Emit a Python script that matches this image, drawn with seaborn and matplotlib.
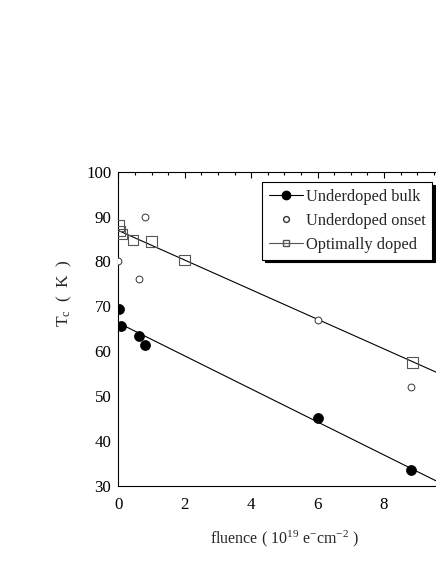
import numpy as np
import pandas as pd
import matplotlib
matplotlib.use("Agg")
import matplotlib.pyplot as plt
from matplotlib.lines import Line2D
import seaborn as sns

sns.set_theme(style="white")
plt.rcParams['font.family'] = ['Liberation Serif', 'DejaVu Serif']
plt.rcParams['mathtext.fontset'] = 'custom'
plt.rcParams['mathtext.rm'] = 'Liberation Serif'
plt.rcParams['mathtext.it'] = 'Liberation Serif'
plt.rcParams['mathtext.default'] = 'regular'

# Data
bulk_x = [0.02, 0.07, 0.63, 0.79, 6.02, 8.83]
bulk_y = [69.5, 65.6, 63.4, 61.3, 45.1, 33.5]
onset_x = [0.0, 0.62, 0.79, 6.02, 8.83]
onset_y = [80.0, 76.0, 89.9, 67.0, 52.0]
opt_x = [0.02, 0.03, 0.1, 0.44, 0.99, 2.0, 8.87]
opt_y = [88.0, 86.8, 86.1, 84.8, 84.5, 80.3, 57.5]
# linear fit parameters (intercept, slope)
bulk_fit = (66.3, -3.68)
opt_fit = (86.9, -3.30)
fit_x = [0.0, 10.0]
series_names = ["Underdoped bulk", "Underdoped onset", "Optimally doped"]

fig = plt.figure(figsize=(4.36, 5.64), dpi=100)
ax = fig.add_axes([118.3/436, 1-485.7/564, 332/436, (485.7-171.7)/564])

fx = np.array(fit_x)
sns.lineplot(x=fx, y=bulk_fit[0] + bulk_fit[1]*fx, ax=ax, color='black', lw=0.8)
sns.lineplot(x=fx, y=opt_fit[0] + opt_fit[1]*fx, ax=ax, color='black', lw=0.8)

sns.scatterplot(x=bulk_x, y=bulk_y, ax=ax, marker='o', s=52, color='black',
                edgecolor='black', linewidth=0.5, zorder=3)
sns.scatterplot(x=onset_x, y=onset_y, ax=ax, marker='o', s=24, facecolor='white',
                edgecolor='#333333', linewidth=0.7, zorder=3)
sns.scatterplot(x=opt_x, y=opt_y, ax=ax, marker='s', s=60, facecolor='none',
                edgecolor='#555555', linewidth=0.8, zorder=3)

ax.set_xlim(0, 10)
ax.set_ylim(30, 100)
ax.set_xticks([0, 2, 4, 6, 8])
ax.set_xticks(np.arange(0, 10.01, 0.5), minor=True)
ax.set_yticks(np.arange(30, 101, 10))
ax.set_yticks(np.arange(30, 101, 2), minor=True)
ax.tick_params(which='both', direction='in', top=True, right=True, colors='black',
               labelsize=12.2, width=0.8)
ax.tick_params(which='major', length=4)
ax.tick_params(which='minor', length=2.5)
ax.tick_params(axis='x', pad=8)
ax.tick_params(axis='y', pad=5)
for sp in ax.spines.values():
    sp.set_color('black')
    sp.set_linewidth(0.8)

ax.set_xlabel("fluence ( 10$^{19}$ e$^{-}$cm$^{-2}$ )", fontsize=11.5, labelpad=11)
ax.set_ylabel("T$_{c}$  (  K  )", fontsize=12.5)
ax.yaxis.set_label_coords(-0.133, 0.614)

handles = [
    Line2D([], [], color='black', lw=0.8, marker='o', markersize=6,
           markerfacecolor='black', markeredgecolor='black'),
    Line2D([], [], color='none', marker='o', markersize=4.2,
           markerfacecolor='white', markeredgecolor='#333333'),
    Line2D([], [], color='#555555', lw=0.8, marker='s', markersize=5,
           markerfacecolor='none', markeredgecolor='#555555'),
]
leg = ax.legend(handles, series_names, loc='upper left',
                bbox_to_anchor=(262/436, 1-182/564), bbox_transform=fig.transFigure,
                borderaxespad=0, fancybox=False,
                shadow={'color': 'black', 'alpha': 1}, framealpha=1,
                edgecolor='black', fontsize=11.8, handlelength=2.08, handletextpad=0.2,
                borderpad=0.4, labelspacing=0.5)
leg.get_frame().set_linewidth(0.8)

fig.savefig("out.png", dpi=100)
